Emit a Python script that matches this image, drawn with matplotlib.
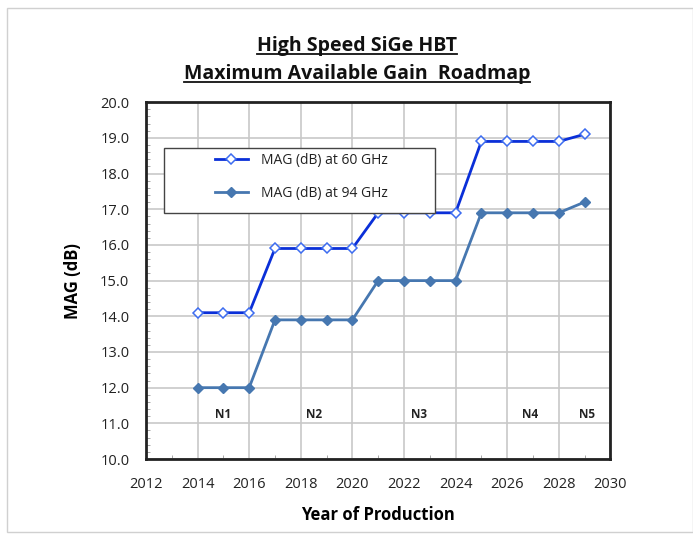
import matplotlib.pyplot as plt
from matplotlib.patches import Rectangle
from matplotlib.lines import Line2D
from matplotlib.ticker import MultipleLocator

plt.rcParams['font.family'] = ['Open Sans', 'DejaVu Sans']

years = [2014, 2015, 2016, 2017, 2018, 2019, 2020, 2021, 2022, 2023,
         2024, 2025, 2026, 2027, 2028, 2029]
mag_60 = [14.1, 14.1, 14.1, 15.9, 15.9, 15.9, 15.9, 16.9, 16.9, 16.9,
          16.9, 18.9, 18.9, 18.9, 18.9, 19.1]
mag_94 = [12.0, 12.0, 12.0, 13.9, 13.9, 13.9, 13.9, 15.0, 15.0, 15.0,
          15.0, 16.9, 16.9, 16.9, 16.9, 17.2]
node_names = ['N1', 'N2', 'N3', 'N4', 'N5']
node_x = [2015, 2018.5, 2022.6, 2026.9, 2029.1]

fig = plt.figure(figsize=(6.93, 5.35), dpi=100)
ax = fig.add_axes([0.2107, 0.142, 0.670, 0.667])

ax.plot(years, mag_60, color='#0a2fd8', lw=2, marker='D', ms=5,
        mfc='white', mec='#3d6cf0', mew=1.1, label='MAG (dB) at 60 GHz', zorder=4)
ax.plot(years, mag_94, color='#4677b0', lw=2, marker='D', ms=5,
        mfc='#4677b0', mec='#4677b0', label='MAG (dB) at 94 GHz', zorder=3)

for name, xn in zip(node_names, node_x):
    ax.text(xn, 11.25, name, ha='center', va='center', fontsize=8.5,
            fontweight='bold', color='#222222')

ax.set_xlim(2012, 2030)
ax.set_ylim(10, 20)
ax.xaxis.set_major_locator(MultipleLocator(2))
ax.xaxis.set_minor_locator(MultipleLocator(1))
ax.yaxis.set_major_locator(MultipleLocator(1))
ax.yaxis.set_minor_locator(MultipleLocator(0.2))
ax.set_yticklabels([f'{v:.1f}' for v in ax.get_yticks()])
ax.grid(True, which='major', color='#c8c8c8', lw=1.2)
ax.set_axisbelow(True)
ax.tick_params(which='major', length=0, labelsize=10.5, colors='#222222')
ax.tick_params(axis='x', which='major', pad=13)
ax.tick_params(axis='y', which='major', pad=12)
ax.tick_params(which='minor', direction='in', length=3, color='#999999',
               top=False, right=False)
for sp in ax.spines.values():
    sp.set_linewidth(2)
    sp.set_color('#222222')

ax.set_xlabel('Year of Production', fontsize=12, fontweight='bold', labelpad=10)
ax.set_ylabel('MAG (dB)', fontsize=12, fontweight='bold', labelpad=13)

# legend box drawn separately to get the wide left margin of the original
ax.add_patch(Rectangle((0.039, 0.689), 0.584, 0.182, transform=ax.transAxes,
                       facecolor='white', edgecolor='#444444', lw=1, zorder=5))
leg = ax.legend(loc='upper left', bbox_to_anchor=(0.148, 0.857), fontsize=10,
                frameon=False, borderpad=0, labelspacing=1.25, handlelength=2.4,
                borderaxespad=0, handletextpad=0.9)
leg.set_zorder(6)
for t in leg.get_texts():
    t.set_color('#222222')

t1 = fig.text(0.515, 0.914, 'High Speed SiGe HBT', ha='center', va='center',
              fontsize=14, fontweight='bold', color='#111111')
t2 = fig.text(0.515, 0.862, 'Maximum Available Gain  Roadmap', ha='center',
              va='center', fontsize=14, fontweight='bold', color='#111111')

fig.canvas.draw()
r = fig.canvas.get_renderer()
for t in (t1, t2):
    bb = t.get_window_extent(r).transformed(fig.transFigure.inverted())
    fig.add_artist(Line2D([bb.x0, bb.x1], [bb.y0 + 0.003, bb.y0 + 0.003],
                          transform=fig.transFigure, color='#111111', lw=1.3))

fig.add_artist(Rectangle((0.010, 0.006), 0.99, 0.979, transform=fig.transFigure,
                         fill=False, edgecolor='#d0d0d0', lw=1))

fig.savefig('out.png', dpi=100)
